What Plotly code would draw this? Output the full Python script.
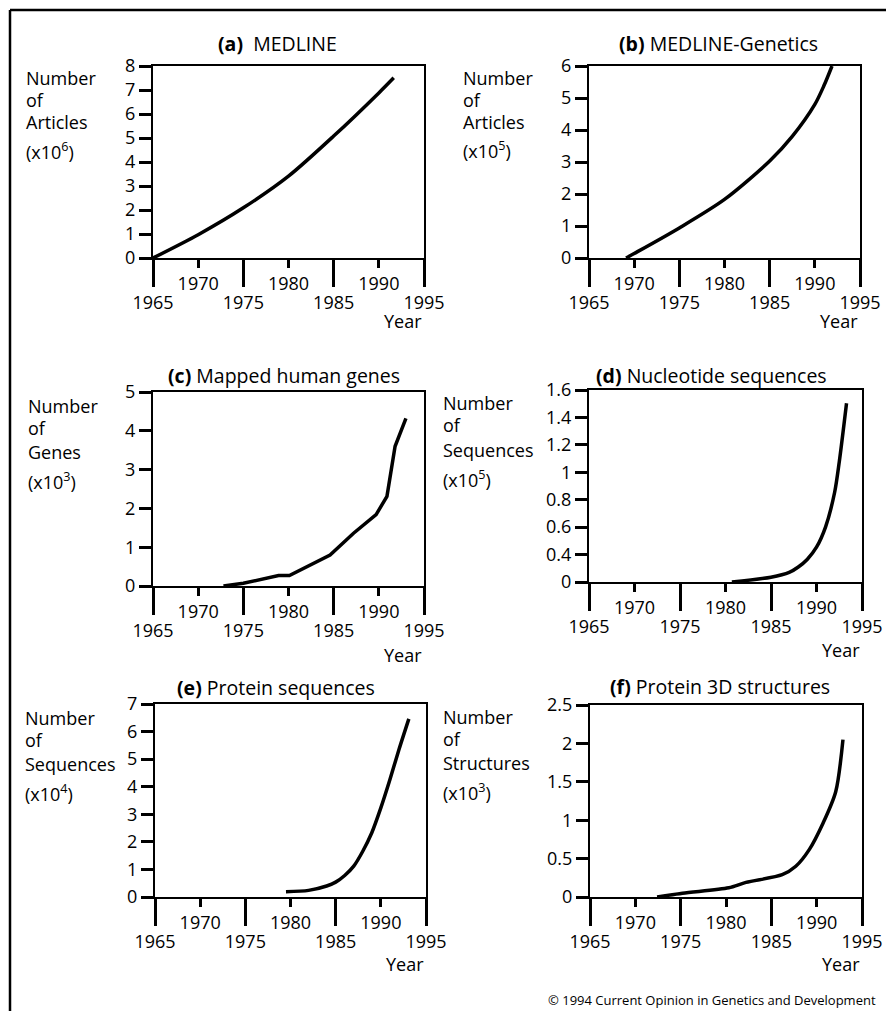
import plotly.graph_objects as go

W, H = 886, 1011
FONT = "Open Sans"

# ---------------- data ----------------
years_a = [1965, 1970, 1975, 1980, 1985, 1990, 1991.65]
vals_a = [0, 0.97, 2.09, 3.41, 5.08, 6.88, 7.51]

years_b = [1969.1, 1970, 1975, 1980, 1985, 1987.5, 1990, 1991, 1991.9]
vals_b = [0, 0.14, 0.94, 1.83, 3.03, 3.8, 4.8, 5.38, 6.0]

years_c = [1972.8, 1975, 1978.9, 1980.1, 1984.6, 1987.2, 1989.7, 1990.9, 1991.8, 1993.0]
vals_c = [0, 0.07, 0.27, 0.27, 0.8, 1.36, 1.84, 2.31, 3.6, 4.32]

years_d = [1980.7, 1985, 1987, 1988, 1989, 1990, 1991, 1992, 1992.5, 1993.3]
vals_d = [0, 0.04, 0.08, 0.125, 0.19, 0.29, 0.46, 0.75, 1.0, 1.49]

years_e = [1979.5, 1982, 1984, 1985, 1986, 1987, 1988, 1989, 1990, 1991, 1992, 1993.1]
vals_e = [0.19, 0.24, 0.40, 0.54, 0.78, 1.12, 1.66, 2.33, 3.23, 4.25, 5.34, 6.46]

years_f = [1972.4, 1975.2, 1980.3, 1982.2, 1986.2, 1987.7, 1989.2, 1990.7, 1992.1, 1992.9]
vals_f = [0, 0.05, 0.12, 0.19, 0.29, 0.40, 0.62, 0.96, 1.37, 2.05]

titles = ["<b>(a)</b>  MEDLINE", "<b>(b)</b> MEDLINE-Genetics", "<b>(c)</b> Mapped human genes",
          "<b>(d)</b> Nucleotide sequences", "<b>(e)</b> Protein sequences", "<b>(f)</b> Protein 3D structures"]
ylabels = [["Number", "of", "Articles", "(x10<sup>6</sup>)"],
           ["Number", "of", "Articles", "(x10<sup>5</sup>)"],
           ["Number", "of", "Genes", "(x10<sup>3</sup>)"],
           ["Number", "of", "Sequences", "(x10<sup>5</sup>)"],
           ["Number", "of", "Sequences", "(x10<sup>4</sup>)"],
           ["Number", "of", "Structures", "(x10<sup>3</sup>)"]]
y_max = [8, 6, 5, 1.6, 7, 2.5]
y_ticks = [[0, 1, 2, 3, 4, 5, 6, 7, 8], [0, 1, 2, 3, 4, 5, 6], [0, 1, 2, 3, 4, 5],
           [0, 1.6 / 7, 3.2 / 7, 4.8 / 7, 6.4 / 7, 8.0 / 7, 9.6 / 7, 1.6],
           [0, 1, 2, 3, 4, 5, 6, 7],
           [0, 0.5, 1, 1.5, 2, 2.5]]
y_ticklabels = [["0", "1", "2", "3", "4", "5", "6", "7", "8"],
                ["0", "1", "2", "3", "4", "5", "6"],
                ["0", "1", "2", "3", "4", "5"],
                ["0", "0.4", "0.6", "0.8", "1", "1.2", "1.4", "1.6"],
                ["0", "1", "2", "3", "4", "5", "6", "7"],
                ["0", "0.5", "1", "1.5", "2", "2.5"]]
x_major = [1965, 1975, 1985, 1995]
x_minor = [1970, 1980, 1990]
series = [(years_a, vals_a), (years_b, vals_b), (years_c, vals_c),
          (years_d, vals_d), (years_e, vals_e), (years_f, vals_f)]
shapes_line = ["spline", "spline", "linear", "spline", "spline", "spline"]
copyright_text = "© 1994 Current Opinion in Genetics and Development"

# ---------------- layout geometry (pixels) ----------------
boxes = [(153, 424, 66, 258), (589, 860, 66, 258), (153, 424, 392, 586),
         (589, 862, 390, 582), (155, 426, 704, 897), (590, 862, 705, 897)]
title_pos = [(277, 44), (718, 44), (284, 375), (711, 375), (276, 687), (720, 686)]
ylab_pos = [(24, [78, 100, 122, 151]), (461, [78, 100, 122, 150]),
            (26, [406, 428, 452, 481]), (441, [403, 425, 450, 479]),
            (23, [718, 740, 764, 793]), (441, [717, 739, 763, 792])]
year_pos = [(424, 321), (860, 321), (424, 655), (862, 650), (426, 964), (862, 964)]


def px(x):
    return x / W


def py(y):
    return 1 - y / H


fig = go.Figure()
layout = dict(template="none", width=W, height=H, margin=dict(l=0, r=0, t=0, b=0, pad=0),
              autosize=False,
              paper_bgcolor="white", plot_bgcolor="white", showlegend=False,
              font=dict(family=FONT, size=18, color="black"))
annotations = []

for i in range(6):
    n = i + 1
    xs, ys = series[i]
    x0, x1, y0, y1 = boxes[i]
    xa = "x" if n == 1 else f"x{n}"
    ya = "y" if n == 1 else f"y{n}"
    fig.add_trace(go.Scatter(x=xs, y=ys, xaxis=xa, yaxis=ya, mode="lines",
                             line=dict(color="black", width=3.5, shape=shapes_line[i],
                                       smoothing=0.8), hoverinfo="skip"))
    # transparent copy so the overlaying minor-tick axis is drawn
    fig.add_trace(go.Scatter(x=xs, y=ys, xaxis=f"x{n + 6}", yaxis=ya, mode="lines",
                             line=dict(color="rgba(0,0,0,0)", width=0), hoverinfo="skip"))
    common_x = dict(range=[1965, 1995], showgrid=False, zeroline=False, automargin=False,
                    ticks="outside", tickwidth=2.5, tickcolor="black", fixedrange=True,
                    tickfont=dict(family=FONT, size=18, color="black"))
    layout[f"xaxis{n if n > 1 else ''}"] = dict(
        **common_x, domain=[px(x0), px(x1)], anchor=ya,
        tickmode="array", tickvals=x_major, ticktext=[str(v) for v in x_major],
        ticklen=27, showline=True, linewidth=2, linecolor="black", mirror=True)
    layout[f"xaxis{n + 6}"] = dict(
        **common_x, overlaying=xa, anchor=ya, side="bottom",
        tickmode="array", tickvals=x_minor, ticktext=[str(v) for v in x_minor],
        ticklen=9, showline=False)
    layout[f"yaxis{n if n > 1 else ''}"] = dict(
        range=[0, y_max[i]], domain=[py(y1), py(y0)], anchor=xa, automargin=False,
        showgrid=False, zeroline=False, tickmode="array", tickvals=y_ticks[i],
        ticktext=y_ticklabels[i], ticks="outside", ticklen=12, tickwidth=2.5,
        tickcolor="black", showline=True, linewidth=2, linecolor="black", fixedrange=True,
        mirror=True, tickfont=dict(family=FONT, size=18, color="black"))
    tx, ty = title_pos[i]
    annotations.append(dict(text=titles[i], x=px(tx), y=py(ty), xref="paper", yref="paper",
                            xanchor="center", yanchor="middle", showarrow=False,
                            font=dict(family=FONT, size=19.5, color="black")))
    lx, lys = ylab_pos[i]
    for txt, ly in zip(ylabels[i], lys):
        annotations.append(dict(text=txt, x=px(lx), y=py(ly), xref="paper", yref="paper",
                                xanchor="left", yanchor="middle", showarrow=False,
                                font=dict(family=FONT, size=18, color="black")))
    yx, yy = year_pos[i]
    annotations.append(dict(text="Year", x=px(yx), y=py(yy), xref="paper", yref="paper",
                            xanchor="right", yanchor="middle", showarrow=False,
                            font=dict(family=FONT, size=18, color="black")))

annotations.append(dict(text=copyright_text, x=px(878), y=py(1000), xref="paper", yref="paper",
                        xanchor="right", yanchor="middle", showarrow=False,
                        font=dict(family=FONT, size=13, color="black")))

layout["annotations"] = annotations
layout["shapes"] = [
    dict(type="line", xref="paper", yref="paper", x0=px(10), x1=1, y0=py(10), y1=py(10),
         line=dict(color="black", width=2.5)),
    dict(type="line", xref="paper", yref="paper", x0=px(10), x1=px(10), y0=py(10), y1=0,
         line=dict(color="black", width=2.5)),
]
fig.update_layout(**layout)
fig.write_html("out.html", config={"displayModeBar": False},
               post_script="document.body.style.margin='0';document.body.style.overflow='hidden';")
